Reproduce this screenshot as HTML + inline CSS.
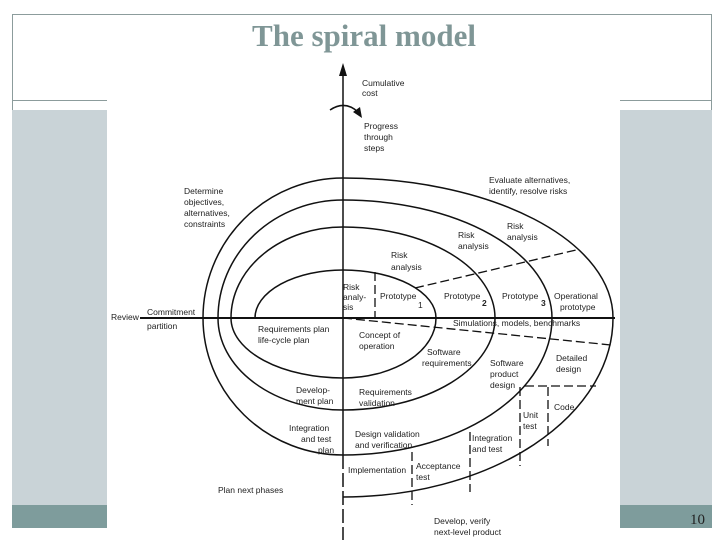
<!DOCTYPE html>
<html><head><style>
body{margin:0;width:720px;height:540px;background:#fff;overflow:hidden;position:relative;font-family:"Liberation Sans",sans-serif}
.a{position:absolute}
</style></head><body>
<div class="a" style="left:12px;top:14px;width:700px;height:514px;border:1px solid #8c9c9c;border-bottom:none;box-sizing:border-box"></div>
<div class="a" style="left:12px;top:100px;width:700px;height:1px;background:#8c9c9c"></div>
<div class="a" style="left:12px;top:110px;width:700px;height:395px;background:#c9d3d7"></div>
<div class="a" style="left:12px;top:505px;width:700px;height:23px;background:#7e9c9c"></div>
<div class="a" style="left:107px;top:58px;width:513px;height:482px;background:#fff"></div>
<div class="a" style="left:0;top:18px;width:728px;text-align:center;font-family:'Liberation Serif',serif;font-weight:bold;font-size:31px;color:#7f9696">The spiral model</div>
<div class="a" style="left:690px;top:512px;font-family:'Liberation Serif',serif;font-size:15px;color:#222">10</div>
<svg class="a" style="left:0;top:0" width="720" height="540" viewBox="0 0 720 540">
<g fill="none" stroke="#111" stroke-width="1.5">
<line x1="343" y1="70" x2="343" y2="455"/>
<line x1="343" y1="455" x2="343" y2="540" stroke-dasharray="14,4"/>
<line x1="140" y1="318" x2="615" y2="318" stroke-width="2"/>
<path d="M255 318 A88 48 0 0 1 343 270 A93 48 0 0 1 436 318"/>
<path d="M231 318 A112 91 0 0 1 343 227 A152 91 0 0 1 495 318"/>
<path d="M218 318 A125 118 0 0 1 343 200 A209 118 0 0 1 552 318"/>
<path d="M203 318 A140 140 0 0 1 343 178 A270 140 0 0 1 613 318"/>
<path d="M436 318 A93 60 0 0 1 343 378 A112 60 0 0 1 231 318"/>
<path d="M495 318 A152 92 0 0 1 343 410 A125 92 0 0 1 218 318"/>
<path d="M552 318 A209 137 0 0 1 343 455 A140 137 0 0 1 203 318"/>
<path d="M613 318 A270 179 0 0 1 343 497"/>
<g stroke-dasharray="9,4" stroke-width="1.3">
<line x1="375" y1="272" x2="375" y2="318"/>
<line x1="415" y1="288" x2="576" y2="250"/>
<line x1="343" y1="318" x2="611" y2="345"/>
<line x1="525" y1="386" x2="596" y2="386"/>
<line x1="520" y1="387" x2="520" y2="466"/>
<line x1="548" y1="387" x2="548" y2="446"/>
<line x1="470" y1="432" x2="470" y2="492"/>
<line x1="412" y1="452" x2="412" y2="505"/>
</g>
<path d="M330 110 Q345 100 358 112" stroke-width="1.5"/>
</g>
<polygon points="343,63 339,76 347,76" fill="#111"/>
<polygon points="362,118 353,112 360,107" fill="#111"/>
<g font-size="8.5" fill="#222" font-family="Liberation Sans,sans-serif">
<text x="362" y="86">Cumulative</text><text x="362" y="96">cost</text>
<text x="364" y="129">Progress</text><text x="364" y="140">through</text><text x="364" y="151">steps</text>
<text x="184" y="194">Determine</text><text x="184" y="205">objectives,</text><text x="184" y="216">alternatives,</text><text x="184" y="227">constraints</text>
<text x="489" y="183">Evaluate alternatives,</text><text x="489" y="194">identify, resolve risks</text>
<text x="507" y="229">Risk</text><text x="507" y="240">analysis</text>
<text x="458" y="238">Risk</text><text x="458" y="249">analysis</text>
<text x="391" y="258">Risk</text><text x="391" y="270">analysis</text>
<text x="343" y="290">Risk</text><text x="343" y="300">analy-</text><text x="343" y="310">sis</text>
<text x="380" y="299">Prototype</text><text x="418" y="308">1</text>
<text x="444" y="299">Prototype</text><text x="482" y="306" font-weight="bold">2</text>
<text x="502" y="299">Prototype</text><text x="541" y="306" font-weight="bold">3</text>
<text x="554" y="299">Operational</text><text x="560" y="310">prototype</text>
<text x="111" y="320">Review</text>
<text x="147" y="315">Commitment</text><text x="147" y="329">partition</text>
<text x="453" y="326">Simulations, models, benchmarks</text>
<text x="258" y="332">Requirements plan</text><text x="258" y="343">life-cycle plan</text>
<text x="359" y="338">Concept of</text><text x="359" y="349">operation</text>
<text x="427" y="355">Software</text><text x="422" y="366">requirements</text>
<text x="490" y="366">Software</text><text x="490" y="377">product</text><text x="490" y="388">design</text>
<text x="556" y="361">Detailed</text><text x="556" y="372">design</text>
<text x="554" y="410">Code</text>
<text x="523" y="418">Unit</text><text x="523" y="429">test</text>
<text x="296" y="393">Develop-</text><text x="296" y="404">ment plan</text>
<text x="359" y="395">Requirements</text><text x="359" y="406">validation</text>
<text x="289" y="431">Integration</text><text x="301" y="442">and test</text><text x="318" y="453">plan</text>
<text x="355" y="437">Design validation</text><text x="355" y="448">and verification</text>
<text x="472" y="441">Integration</text><text x="472" y="452">and test</text>
<text x="348" y="473">Implementation</text>
<text x="416" y="469">Acceptance</text><text x="416" y="480">test</text>
<text x="218" y="493">Plan next phases</text>
<text x="434" y="524">Develop, verify</text><text x="434" y="535">next-level product</text>
</g>
</svg>
</body></html>
